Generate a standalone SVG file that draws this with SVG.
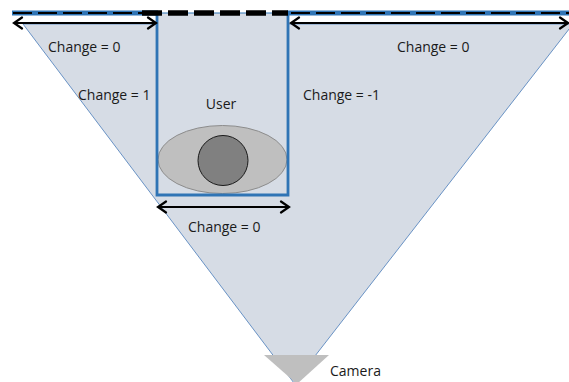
<svg xmlns="http://www.w3.org/2000/svg" width="569" height="382" viewBox="0 0 569 382">
  <defs>
    <marker id="ah" viewBox="-10 -7 12 14" refX="0" refY="0" markerWidth="12" markerHeight="14" markerUnits="userSpaceOnUse" orient="auto-start-reverse">
      <path d="M -8 -5.5 L 0 0 L -8 5.5" fill="none" stroke="#000" stroke-width="2.2" stroke-linecap="round" stroke-linejoin="miter"/>
    </marker>
  </defs>
  <style>
    text { font-family: "Open Sans", "Noto Sans", "Liberation Sans", sans-serif; font-size: 14px; fill: #1a1a1a; }
    .arrow { stroke: #000; stroke-width: 2.2; fill: none; marker-start: url(#ah); marker-end: url(#ah); }
  </style>
  <rect width="569" height="382" fill="#ffffff"/>
  <g id="view-cone">
    <polygon points="23,24 573,24 294,383" fill="#d6dce5" stroke="#5a88c0" stroke-width="0.9"/>
    <rect x="157" y="13" width="131" height="182" fill="#d6dce5"/>
  </g>
  <g id="camera">
    <polygon points="264,355 329,355 297,384" fill="#bfbfbf"/>
    <text x="330" y="376">Camera</text>
  </g>
  <g id="user">
    <ellipse cx="222.5" cy="159.5" rx="64.5" ry="34" fill="#bfbfbf" stroke="#8c8c8c" stroke-width="1"/>
    <circle cx="223" cy="160.5" r="25" fill="#808080" stroke="#1a1a1a" stroke-width="1"/>
    <text x="221" y="109" text-anchor="middle">User</text>
  </g>
  <g id="wall">
    <line x1="12" y1="13" x2="569" y2="13" stroke="#2f74b5" stroke-width="1"/>
    <path d="M157,13 V195 H288 V13" fill="none" stroke="#2f74b5" stroke-width="2.8"/>
    <line x1="12" y1="13" x2="158" y2="13" stroke="#2f74b5" stroke-width="5"/>
    <line x1="287" y1="13" x2="569" y2="13" stroke="#2f74b5" stroke-width="5"/>
    <line x1="13" y1="13" x2="155" y2="13" stroke="#000" stroke-width="2" stroke-dasharray="19 6"/>
    <line x1="291" y1="13" x2="569" y2="13" stroke="#000" stroke-width="2" stroke-dasharray="19 6"/>
    <line x1="142" y1="13" x2="288" y2="13" stroke="#000" stroke-width="5.5" stroke-dasharray="20 6"/>
  </g>
  <g id="connectors">
    <line class="arrow" x1="14" y1="23" x2="156" y2="23"/>
    <line class="arrow" x1="291" y1="23" x2="568" y2="23"/>
    <line class="arrow" x1="158" y1="207" x2="289" y2="207"/>
  </g>
  <g id="labels">
    <text x="48" y="52">Change = 0</text>
    <text x="397" y="52">Change = 0</text>
    <text x="78" y="100">Change = 1</text>
    <text x="303" y="100">Change = -1</text>
    <text x="188" y="232">Change = 0</text>
  </g>
</svg>
